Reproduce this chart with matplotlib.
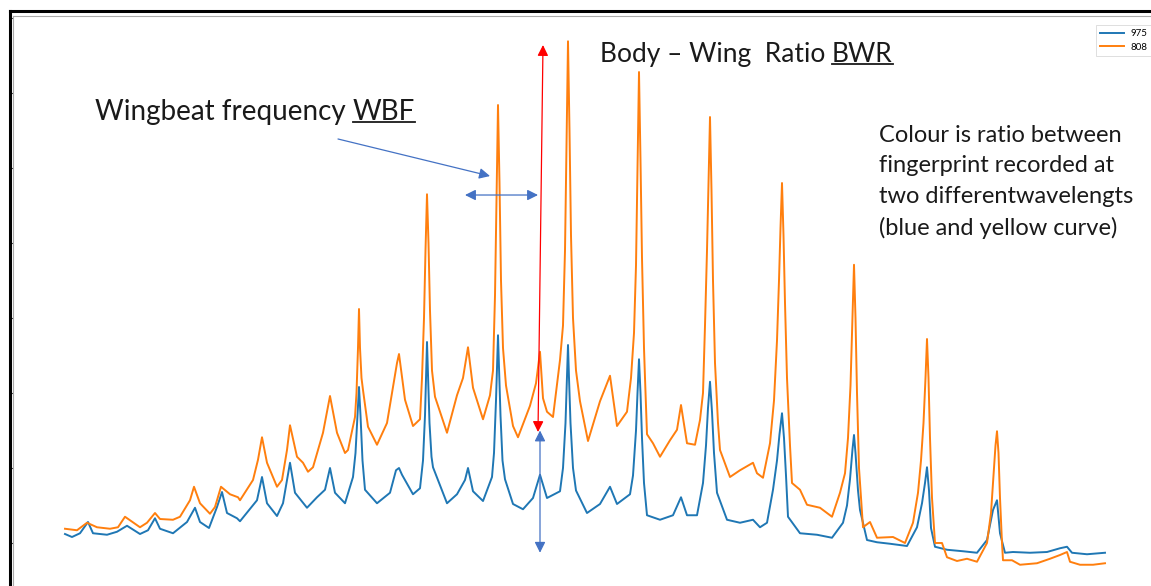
import numpy as np
import matplotlib.pyplot as plt
from matplotlib.lines import Line2D

plt.rcParams['font.family'] = ['Lato', 'DejaVu Sans']

# (time sample, signal)
trace_975 = [(2, 1.12), (9, 1.08), (17, 1.13), (25, 1.28), (30, 1.13), (44, 1.11), (54, 1.15), (64, 1.23),
             (77, 1.12), (85, 1.17), (92, 1.33), (97, 1.19), (110, 1.13), (124, 1.28), (132, 1.47), (137, 1.28),
             (146, 1.2), (154, 1.48), (159, 1.68), (164, 1.4), (174, 1.33), (177, 1.29), (194, 1.57), (199, 1.88),
             (204, 1.53), (214, 1.36), (220, 1.53), (227, 2.07), (232, 1.67), (244, 1.47), (254, 1.61), (262, 1.71),
             (267, 2.0), (272, 1.67), (282, 1.53), (290, 1.88), (292.5, 2.2), (294.5, 2.7), (296, 3.08),
             (297.5, 2.7), (299.5, 2.1), (302, 1.71), (314, 1.53), (327, 1.67), (333, 1.97), (336, 2.0),
             (339, 1.91), (350, 1.65), (357, 1.73), (360, 2.1), (362, 2.7), (363, 3.2), (364, 3.68), (365, 3.25),
             (366.5, 2.6), (368.5, 2.15), (370, 2.01), (384, 1.53), (394, 1.65), (402, 1.84), (405, 2.0),
             (410, 1.69), (420, 1.56), (429, 1.88), (431, 2.2), (433, 2.9), (434, 3.35), (435, 3.77), (436, 3.35),
             (437.5, 2.7), (439.5, 2.1), (442, 1.85), (450, 1.52), (460, 1.45), (470, 1.6), (477, 1.91),
             (484, 1.6), (497, 1.69), (500, 2.0), (502.5, 2.6), (504, 3.2), (505, 3.64), (506, 3.2), (507.5, 2.6),
             (510, 2.0), (513, 1.7), (524, 1.4), (537, 1.52), (547, 1.75), (554, 1.52), (567, 1.65), (570, 1.9),
             (573, 2.5), (574.5, 3.0), (576, 3.45), (577.5, 3.0), (579, 2.4), (581, 1.8), (584, 1.37), (597, 1.31),
             (610, 1.37), (618, 1.61), (624, 1.37), (634, 1.37), (640, 1.8), (643, 2.3), (645, 2.8), (647, 3.15),
             (649, 2.75), (651, 2.2), (654, 1.67), (664, 1.31), (677, 1.27), (690, 1.31), (697, 1.21), (704, 1.27),
             (710, 1.71), (714, 2.1), (716.5, 2.45), (719, 2.73), (721, 2.4), (723, 1.9), (725, 1.35), (737, 1.13),
             (754, 1.11), (769, 1.07), (780, 1.27), (784, 1.5), (787, 1.85), (789.5, 2.25), (791, 2.44),
             (792.5, 2.2), (795, 1.7), (797, 1.44), (804, 1.04), (814, 1.01), (827, 0.99), (844, 0.96), (854, 1.21),
             (859, 1.53), (862, 1.8), (864, 2.01), (866, 1.7), (868, 1.2), (872, 0.95), (884, 0.91), (900, 0.89),
             (914, 0.87), (924, 1.04), (930, 1.44), (934, 1.57), (937, 1.13), (942, 0.87), (950, 0.88), (967, 0.87),
             (984, 0.88), (997, 0.93), (1004, 0.95), (1009, 0.87), (1024, 0.85), (1042, 0.87)]

trace_808 = [(2, 1.19), (14, 1.17), (24, 1.27), (34, 1.21), (47, 1.19), (55, 1.21), (62, 1.35), (77, 1.21),
             (84, 1.27), (92, 1.4), (97, 1.32), (110, 1.31), (117, 1.35), (127, 1.57), (131, 1.75), (137, 1.53),
             (147, 1.39), (152, 1.48), (158, 1.75), (167, 1.65), (175, 1.61), (177, 1.57), (190, 1.84), (195, 2.11),
             (199, 2.41), (204, 2.07), (214, 1.75), (219, 1.84), (224, 2.24), (227, 2.57), (234, 2.15), (240, 2.07),
             (245, 1.95), (250, 2.01), (260, 2.47), (267, 2.96), (274, 2.47), (282, 2.2), (285, 2.24), (292, 2.68),
             (293.5, 3.0), (295, 3.6), (296, 4.12), (297, 3.6), (298.5, 3.2), (300, 3.04), (305, 2.55), (314, 2.31),
             (324, 2.6), (334, 3.4), (336, 3.52), (342, 2.91), (350, 2.56), (357, 2.65), (359, 3.2), (361, 4.0),
             (362.5, 4.9), (364, 5.65), (365.5, 5.0), (367, 4.1), (369, 3.3), (372, 2.95), (377, 2.75), (384, 2.47),
             (394, 2.97), (400, 3.2), (405, 3.61), (410, 3.07), (420, 2.65), (427, 2.97), (430, 3.3), (432, 4.3),
             (433.5, 5.6), (435, 6.84), (436.5, 5.8), (438, 4.5), (440, 3.6), (443, 3.1), (450, 2.56), (455, 2.41),
             (467, 2.83), (473, 3.13), (477, 3.55), (480, 2.93), (484, 2.75), (490, 2.68), (497, 3.44), (500, 3.9),
             (502, 4.9), (503.5, 6.3), (505, 7.69), (506.5, 6.5), (508, 5.1), (510, 4.0), (513, 3.3), (517, 2.89),
             (525, 2.36), (537, 2.89), (547, 3.23), (554, 2.56), (564, 2.75), (568, 3.2), (571, 3.8), (573, 4.7),
             (574.5, 6.0), (576, 7.28), (577.5, 6.1), (579, 4.8), (581, 3.6), (582, 3.2), (584, 2.45), (590, 2.33),
             (597, 2.15), (607, 2.37), (614, 2.51), (618, 2.84), (624, 2.33), (632, 2.31), (637, 2.64), (640, 3.0),
             (642, 3.9), (644, 4.9), (645.5, 5.8), (647, 6.68), (648.5, 5.7), (650, 4.5), (652, 3.4), (655, 2.6),
             (657, 2.24), (667, 1.88), (677, 1.97), (690, 2.07), (694, 1.93), (700, 1.87), (707, 2.33), (711, 2.9),
             (714, 3.7), (716, 4.5), (717.5, 5.2), (719, 5.8), (720.5, 5.1), (722, 4.2), (724, 3.2), (727, 2.3),
             (729, 1.8), (737, 1.71), (744, 1.51), (757, 1.47), (769, 1.35), (777, 1.67), (782, 1.93), (785, 2.4),
             (787.5, 3.1), (789.5, 4.0), (791, 4.71), (792.5, 4.0), (794, 3.0), (796, 2.0), (800, 1.21), (807, 1.28),
             (814, 1.07), (830, 1.08), (842, 1.0), (850, 1.27), (855, 1.67), (858, 2.1), (860.5, 2.6), (862.5, 3.2),
             (864, 3.72), (865.5, 3.2), (867, 2.4), (869, 1.6), (872, 1.0), (879, 1.0), (884, 0.81), (894, 0.76),
             (904, 0.79), (914, 0.75), (924, 1.0), (928, 1.4), (930.5, 1.9), (932.5, 2.3), (934, 2.49),
             (935.5, 2.2), (937, 1.6), (939, 1.0), (940, 0.77), (949, 0.77), (957, 0.71), (974, 0.73), (987, 0.79),
             (997, 0.84), (1004, 0.88), (1007, 0.75), (1017, 0.71), (1030, 0.71), (1042, 0.73)]

t_975, s_975 = zip(*trace_975)
t_808, s_808 = zip(*trace_808)

note_lines = ['Colour is ratio between', 'fingerprint recorded at',
              'two differentwavelengts', '(blue and yellow curve)']

W, H = 1151, 586
fig = plt.figure(figsize=(W / 100, H / 100), dpi=100)
ax = fig.add_axes([13 / W, (H - 618) / H, (W - 13) / W, 602 / H])

ax.plot(t_975, s_975, color='#1f77b4', lw=1.4, label='975', solid_joinstyle='round')
ax.plot(t_808, s_808, color='#ff7f0e', lw=1.4, label='808', solid_joinstyle='round')

ax.set_xlim(-50, 1088)
ax.set_ylim(0, 8.027)
ax.set_yticks(np.arange(1, 9))
ax.set_yticklabels([])
ax.set_xticks([])
ax.tick_params(axis='y', direction='out', length=3, width=0.8, color='#444444')
for side in ['right', 'bottom']:
    ax.spines[side].set_visible(False)
for side in ['left', 'top']:
    ax.spines[side].set_color('#aaaaaa')
    ax.spines[side].set_linewidth(0.8)

leg = ax.legend(loc='upper left', bbox_to_anchor=(1091 / W, (H - 20) / H), bbox_transform=fig.transFigure,
                fontsize=7, frameon=True, borderpad=0.45, handlelength=2.4, labelspacing=0.45,
                handletextpad=0.7, fancybox=False)
leg.get_frame().set_edgecolor('#d0d0d0')
leg.get_frame().set_linewidth(0.6)

# black frame of the screenshot
fig.add_artist(Line2D([10 / W, 10 / W], [0, (H - 11) / H], color='black', lw=2.2))
fig.add_artist(Line2D([10 / W, 1], [(H - 11) / H, (H - 11) / H], color='black', lw=2.2))

# annotations
ink = '#1a1a1a'
t1 = ax.text(32, 6.747, 'Wingbeat frequency ', fontsize=20, color=ink, va='center', ha='left')
t2 = ax.text(537, 7.52, 'Body \u2013 Wing  Ratio ', fontsize=19, color=ink, va='center', ha='left')
for i, line in enumerate(note_lines):
    ax.text(816, 6.44 - i * 0.413, line, fontsize=17, color=ink, va='center', ha='left')

fig.canvas.draw()
rend = fig.canvas.get_renderer()
for base, word in [(t1, 'WBF'), (t2, 'BWR')]:
    bb = base.get_window_extent(rend)
    x0, _ = ax.transData.inverted().transform((bb.x1, 0))
    w = ax.text(x0, base.get_position()[1], word, fontsize=base.get_fontsize(), color=ink,
                va='center', ha='left')
    wb = w.get_window_extent(rend)
    ul_y = wb.y0 + 3
    fig.add_artist(Line2D([wb.x0 / W, wb.x1 / W], [ul_y / H, ul_y / H], color=ink, lw=1.3))

blue = '#4472c4'
red = '#ff0000'
arrow = dict(lw=0.9, mutation_scale=16, shrinkA=0, shrinkB=0)
ax.annotate('', xy=(427, 5.893), xytext=(275, 6.387), arrowprops=dict(arrowstyle='-|>', color=blue, **arrow))
ax.annotate('', xy=(475, 5.64), xytext=(402, 5.64), arrowprops=dict(arrowstyle='<|-|>', color=blue, **arrow))
ax.annotate('', xy=(475, 2.48), xytext=(480, 7.64), arrowprops=dict(arrowstyle='<|-|>', color=red, **arrow))
ax.annotate('', xy=(477, 0.87), xytext=(477, 2.5), arrowprops=dict(arrowstyle='<|-|>', color=blue, **arrow))

fig.savefig('out.png', dpi=100)
